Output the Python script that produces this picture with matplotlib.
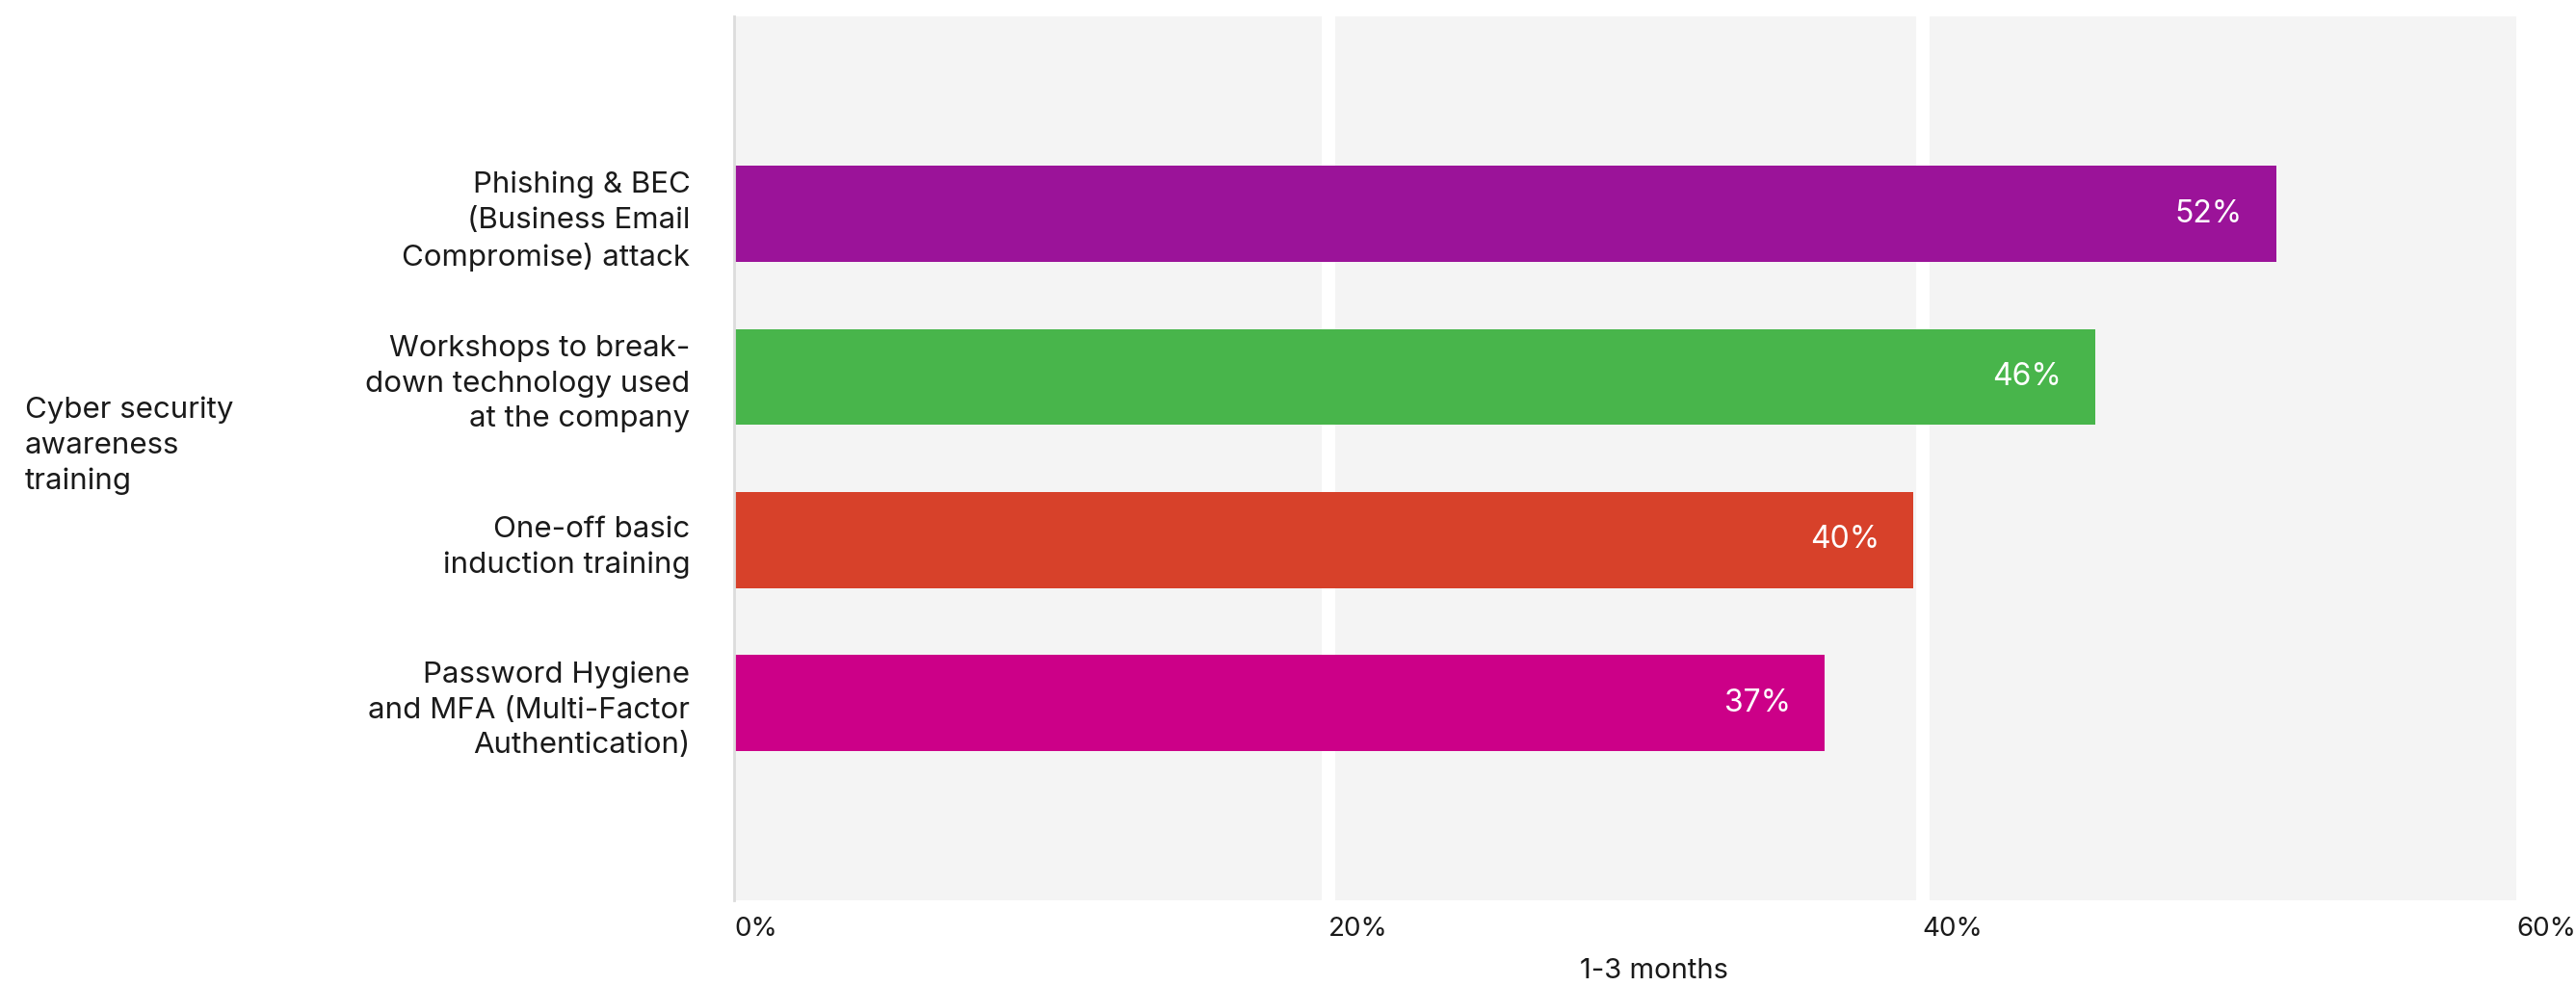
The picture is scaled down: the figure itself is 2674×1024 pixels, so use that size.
"""
Cyber security awareness training, share of respondents at 1-3 months.
Horizontal bar chart with in-bar value labels.
"""
import matplotlib

matplotlib.use("Agg")
import matplotlib.pyplot as plt

plt.rcParams["font.family"] = ["Inter", "DejaVu Sans"]

group_label = "Cyber security\nawareness\ntraining"
categories = [
    "Phishing & BEC\n(Business Email\nCompromise) attack",
    "Workshops to break-\ndown technology used\nat the company",
    "One-off basic\ninduction training",
    "Password Hygiene\nand MFA (Multi-Factor\nAuthentication)",
]
values = [51.9, 45.8, 39.7, 36.7]
colors = ["#9b1399", "#48b54b", "#d7412a", "#cc0088"]
xticks = [0, 20, 40, 60]
xlabel = "1-3 months"

TEXT = "#1a1a1a"
FS = 22.5

fig = plt.figure(figsize=(26.74, 10.24), dpi=100)
ax = fig.add_axes([0.285, 0.087, 0.692, 0.896])
ax.set_facecolor("#f4f4f4")

ypos = list(range(len(categories)))
bars = ax.barh(ypos, values, height=0.59, color=colors, zorder=3)

for b, v in zip(bars, values):
    ax.annotate(f"{v:.0f}%", xy=(b.get_width(), b.get_y() + b.get_height() / 2),
                xytext=(-25, 0), textcoords="offset points",
                ha="right", va="center", color="white", fontsize=23, zorder=4)

# white separators at the inner ticks
for t in xticks[1:-1]:
    ax.axvline(t, color="white", linewidth=10, zorder=1)

ax.set_xlim(xticks[0], xticks[-1])
ax.set_ylim(len(categories) - 1 + 1.21, -1.21)

ax.set_xticks(xticks)
ax.set_xticklabels([f"{t}%" for t in xticks], ha="left")
ax.tick_params(axis="x", length=0, pad=12, labelsize=20, labelcolor=TEXT)
ax.set_yticks(ypos)
ax.set_yticklabels(categories, ha="right", linespacing=1.38)
ax.tick_params(axis="y", length=0, pad=33, labelsize=FS, labelcolor=TEXT)

for side in ["top", "right", "bottom"]:
    ax.spines[side].set_visible(False)
ax.spines["left"].set_color("#dcdcdc")
ax.spines["left"].set_linewidth(2)
ax.spines["left"].set_zorder(5)

ax.set_xlabel(xlabel, fontsize=21, color=TEXT)
ax.xaxis.set_label_coords(0.516, -0.08)
ax.xaxis.label.set_va("center")

fig.text(0.0097, 0.548, group_label, ha="left", va="center",
         fontsize=FS, color=TEXT, linespacing=1.38)

fig.savefig("out.png", dpi=100)
plt.close(fig)
